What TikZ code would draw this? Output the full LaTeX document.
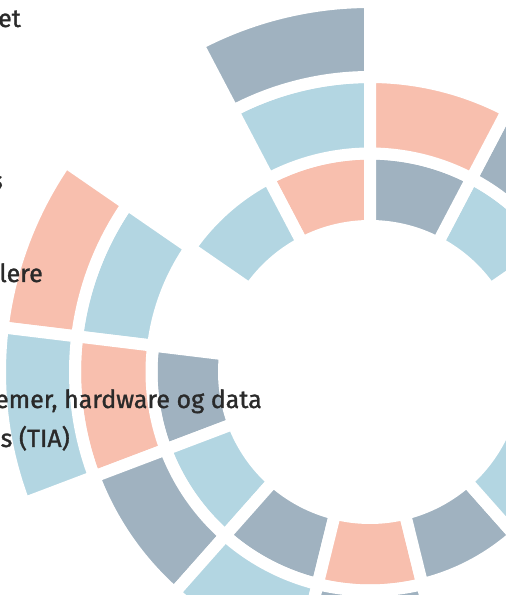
\documentclass[tikz,border=0pt]{standalone}
\usepackage{fontspec}
\setmainfont{Fira Sans}[FakeBold=1.2]
\definecolor{slate}{HTML}{A0B2C0}
\definecolor{sky}{HTML}{B3D6E2}
\definecolor{salmon}{HTML}{F8BFAE}
\definecolor{ink}{HTML}{2A2A2A}
\tikzstyle{segment} = [draw=white, line width=12pt]
\tikzstyle{legend} = [text=ink, font=\fontsize{25}{30}\selectfont,
inner sep=0pt, anchor=base east]

\begin{document}
\begin{tikzpicture}[x=1pt,y=1pt]
  \useasboundingbox (0,0) rectangle (506,595);
  \begin{scope}[shift={(370,223)}]
    \coordinate (hub) at (0,0);
    \foreach \rin/\rout/\k/\col in {
      146/218.5/0/salmon, 146/218.5/1/sky, 146/218.5/3/slate,
      146/218.5/4/sky, 146/218.5/5/slate, 146/218.5/6/salmon,
      146/218.5/7/slate, 146/218.5/8/sky, 146/218.5/11/sky,
      146/218.5/12/slate,
      218.5/295/0/sky, 218.5/295/2/sky, 218.5/295/3/salmon,
      218.5/295/4/slate, 218.5/295/5/sky, 218.5/295/6/slate,
      218.5/295/11/slate, 218.5/295/12/salmon,
      295/370/0/slate, 295/370/2/salmon, 295/370/3/sky}
    {
      \pgfmathsetmacro\from{90+\k*360/13}
      \pgfmathsetmacro\to{\from+360/13}
      \filldraw[segment, fill=\col] (\from:\rout)
        arc[start angle=\from, end angle=\to, radius=\rout]
        -- (\to:\rin) arc[start angle=\to, end angle=\from, radius=\rin]
        -- cycle;
    }
  \end{scope}
  \node[legend] (etline) at (21,568) {et};
  \node[legend] (sline) at (3,406) {s};
  \node[legend] (lereline) at (43,313) {lere};
  \node[legend] (dataline) at (262,187) {emer, hardware og data};
  \node[legend] (tialine) at (70,148) {s (TIA)};
\end{tikzpicture}
\end{document}
